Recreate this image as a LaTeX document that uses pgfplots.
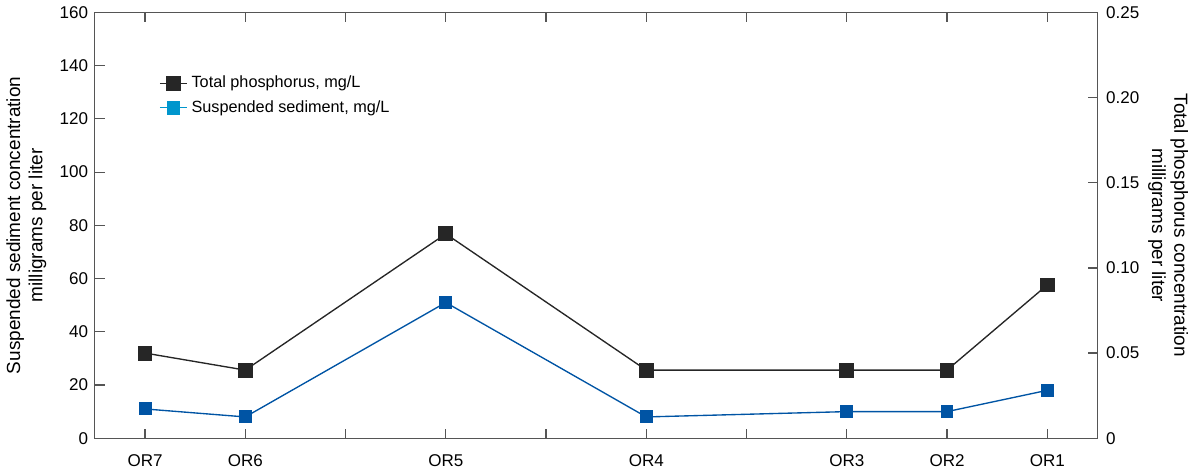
\documentclass[border=0pt]{standalone}
\usepackage{pgfplots}
\pgfplotsset{compat=1.18}
\usepackage{fontspec}
\setmainfont{Liberation Sans}
\definecolor{axgray}{RGB}{85,85,85}
\definecolor{tpblack}{RGB}{38,38,38}
\definecolor{ssblue}{RGB}{0,84,164}
\definecolor{sslight}{RGB}{0,150,205}
\begin{document}
\begin{tikzpicture}
\pgfplotsset{
  common/.style={
    scale only axis, width=518pt, height=220pt,
    xmin=-0.5, xmax=9.5,
    tick align=inside, major tick length=5pt,
    axis line style={axgray, line width=0.6pt},
    tick style={axgray, line width=0.6pt},
    ticklabel style={font=\fontsize{8.8}{10}\selectfont},
    label style={font=\fontsize{9.8}{11.5}\selectfont},
    /pgf/number format/assume math mode=true,
  }
}
\begin{axis}[common,
  ymin=0, ymax=160, ytick={0,20,...,160},
  xtick={0,...,9}, xticklabels={OR7,OR6,,OR5,,OR4,,OR3,OR2,OR1},
  xtick pos=both, ytick pos=left,
  xticklabel style={yshift=-5pt},
  ylabel={Suspended sediment concentration\\milligrams per liter},
  ylabel style={align=center},
]
\addplot[ssblue, line width=0.7pt, mark=square*, mark size=3pt, mark options={fill=ssblue, draw=ssblue}]
  coordinates {(0,11) (1,8) (3,51) (5,8) (7,10) (8,10) (9,18)};
\end{axis}
\begin{axis}[common,
  axis x line=none, axis y line*=right,
  ymin=0, ymax=0.25, ytick={0,0.05,0.10,0.15,0.20,0.25},
  yticklabels={0,0.05,0.10,0.15,0.20,0.25},
  yticklabel style={xshift=1pt},
  ylabel={Total phosphorus concentration\\milligrams per liter},
  ylabel style={align=center, rotate=180, inner sep=0pt},
  ylabel shift=1pt,
  legend style={at={(0.058,0.87)}, anchor=north west, draw=none, fill=none,
    font=\fontsize{8.4}{10}\selectfont, row sep=1pt,
    /tikz/every even column/.append style={column sep=2pt}},
  legend cell align=left,
  legend image code/.code={\draw[mark repeat=2,mark phase=2,#1] plot coordinates {(0pt,0pt) (7pt,0pt) (14pt,0pt)};},
]
\addplot[tpblack, line width=0.7pt, mark=square*, mark size=3.5pt, mark options={fill=tpblack, draw=tpblack}]
  coordinates {(0,0.05) (1,0.04) (3,0.12) (5,0.04) (7,0.04) (8,0.04) (9,0.09)};
\addlegendentry{Total phosphorus, mg/L}
\addlegendimage{sslight, line width=0.7pt, mark=square*, mark size=3.2pt, mark options={fill=sslight, draw=sslight}}
\addlegendentry{Suspended sediment, mg/L}
\end{axis}
\end{tikzpicture}
\end{document}
